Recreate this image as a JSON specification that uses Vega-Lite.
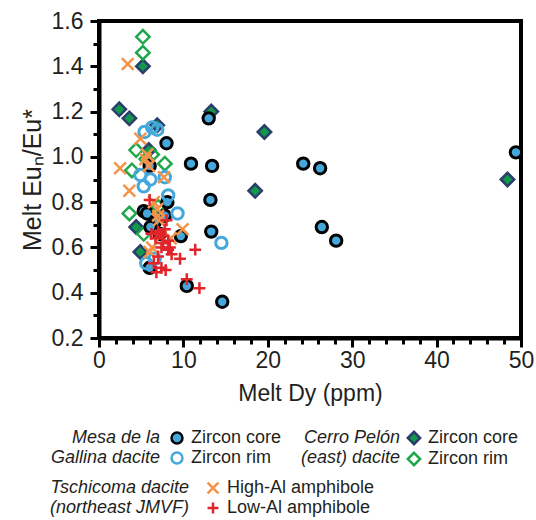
{
  "$schema": "https://vega.github.io/schema/vega-lite/v6.json",
  "width": 422,
  "height": 317,
  "autosize": {"type": "none"},
  "padding": {"left": 99, "top": 21, "right": 15, "bottom": 182},
  "config": {
    "font": "Liberation Sans",
    "view": {"stroke": "black", "strokeWidth": 4},
    "axis": {"grid": false, "domainColor": "black", "domainWidth": 4, "tickColor": "black", "tickWidth": 3, "labelColor": "#231f20", "titleColor": "#231f20", "labelFontSize": 23, "titleFontSize": 23, "titleFontWeight": "normal", "labelOverlap": false, "labelFlush": false},
    "legend": {"orient": "none", "titleOrient": "left", "titleAnchor": "start", "titleFontStyle": "italic", "titleFontWeight": "normal", "titleFontSize": 18, "titleColor": "#231f20", "titleAlign": "right", "titleLineHeight": 20, "titleBaseline": "top", "labelFontSize": 18, "labelColor": "#231f20", "labelOffset": 5, "rowPadding": -3, "symbolStrokeWidth": 2.5, "symbolSize": 120}
  },
  "datasets": {
    "cerro": [
      {"dy": 5.2, "eu": 1.40, "cerro": "Zircon core"},
      {"dy": 2.4, "eu": 1.21, "cerro": "Zircon core"},
      {"dy": 3.6, "eu": 1.17, "cerro": "Zircon core"},
      {"dy": 6.9, "eu": 1.14, "cerro": "Zircon core"},
      {"dy": 13.3, "eu": 1.20, "cerro": "Zircon core"},
      {"dy": 19.6, "eu": 1.11, "cerro": "Zircon core"},
      {"dy": 18.5, "eu": 0.85, "cerro": "Zircon core"},
      {"dy": 48.4, "eu": 0.90, "cerro": "Zircon core"},
      {"dy": 4.4, "eu": 0.69, "cerro": "Zircon core"},
      {"dy": 4.9, "eu": 0.58, "cerro": "Zircon core"},
      {"dy": 5.9, "eu": 1.03, "cerro": "Zircon core"},
      {"dy": 5.2, "eu": 1.53, "cerro": "Zircon rim"},
      {"dy": 5.2, "eu": 1.46, "cerro": "Zircon rim"},
      {"dy": 3.6, "eu": 0.75, "cerro": "Zircon rim"},
      {"dy": 7.8, "eu": 0.97, "cerro": "Zircon rim"},
      {"dy": 6.3, "eu": 1.01, "cerro": "Zircon rim"},
      {"dy": 4.4, "eu": 1.03, "cerro": "Zircon rim"},
      {"dy": 3.9, "eu": 0.94, "cerro": "Zircon rim"},
      {"dy": 5.3, "eu": 0.66, "cerro": "Zircon rim"},
      {"dy": 5.6, "eu": 0.99, "cerro": "Zircon rim"},
      {"dy": 7.0, "eu": 0.78, "cerro": "Zircon rim"}
    ],
    "mesa": [
      {"dy": 49.4, "eu": 1.02, "mesa": "Zircon core"},
      {"dy": 13.0, "eu": 1.17, "mesa": "Zircon core"},
      {"dy": 8.0, "eu": 1.06, "mesa": "Zircon core"},
      {"dy": 10.9, "eu": 0.97, "mesa": "Zircon core"},
      {"dy": 13.4, "eu": 0.96, "mesa": "Zircon core"},
      {"dy": 24.2, "eu": 0.97, "mesa": "Zircon core"},
      {"dy": 26.2, "eu": 0.95, "mesa": "Zircon core"},
      {"dy": 13.2, "eu": 0.81, "mesa": "Zircon core"},
      {"dy": 13.3, "eu": 0.67, "mesa": "Zircon core"},
      {"dy": 26.4, "eu": 0.69, "mesa": "Zircon core"},
      {"dy": 28.1, "eu": 0.63, "mesa": "Zircon core"},
      {"dy": 10.4, "eu": 0.43, "mesa": "Zircon core"},
      {"dy": 14.6, "eu": 0.36, "mesa": "Zircon core"},
      {"dy": 9.7, "eu": 0.65, "mesa": "Zircon core"},
      {"dy": 6.0, "eu": 0.96, "mesa": "Zircon core"},
      {"dy": 5.3, "eu": 0.76, "mesa": "Zircon core"},
      {"dy": 5.7, "eu": 0.75, "mesa": "Zircon core"},
      {"dy": 8.1, "eu": 0.80, "mesa": "Zircon core"},
      {"dy": 6.6, "eu": 0.71, "mesa": "Zircon core"},
      {"dy": 6.1, "eu": 0.69, "mesa": "Zircon core"},
      {"dy": 6.0, "eu": 0.51, "mesa": "Zircon core"},
      {"dy": 7.2, "eu": 0.66, "mesa": "Zircon core"},
      {"dy": 7.8, "eu": 0.74, "mesa": "Zircon core"},
      {"dy": 14.5, "eu": 0.62, "mesa": "Zircon rim"},
      {"dy": 9.3, "eu": 0.75, "mesa": "Zircon rim"},
      {"dy": 8.2, "eu": 0.83, "mesa": "Zircon rim"},
      {"dy": 5.4, "eu": 1.11, "mesa": "Zircon rim"},
      {"dy": 6.3, "eu": 1.13, "mesa": "Zircon rim"},
      {"dy": 6.9, "eu": 1.12, "mesa": "Zircon rim"},
      {"dy": 4.9, "eu": 0.92, "mesa": "Zircon rim"},
      {"dy": 5.3, "eu": 0.87, "mesa": "Zircon rim"},
      {"dy": 6.1, "eu": 0.90, "mesa": "Zircon rim"},
      {"dy": 7.8, "eu": 0.91, "mesa": "Zircon rim"},
      {"dy": 5.6, "eu": 0.53, "mesa": "Zircon rim"},
      {"dy": 6.6, "eu": 0.55, "mesa": "Zircon rim"}
    ],
    "tsch": [
      {"dy": 3.4, "eu": 1.41, "tsch": "High-Al amphibole"},
      {"dy": 2.5, "eu": 0.95, "tsch": "High-Al amphibole"},
      {"dy": 3.6, "eu": 0.85, "tsch": "High-Al amphibole"},
      {"dy": 4.9, "eu": 1.08, "tsch": "High-Al amphibole"},
      {"dy": 5.7, "eu": 1.01, "tsch": "High-Al amphibole"},
      {"dy": 5.9, "eu": 0.96, "tsch": "High-Al amphibole"},
      {"dy": 7.7, "eu": 0.91, "tsch": "High-Al amphibole"},
      {"dy": 9.9, "eu": 0.68, "tsch": "High-Al amphibole"},
      {"dy": 6.0, "eu": 0.58, "tsch": "High-Al amphibole"},
      {"dy": 6.9, "eu": 0.77, "tsch": "High-Al amphibole"},
      {"dy": 7.1, "eu": 0.72, "tsch": "High-Al amphibole"},
      {"dy": 6.5, "eu": 0.80, "tsch": "High-Al amphibole"},
      {"dy": 7.3, "eu": 0.65, "tsch": "High-Al amphibole"},
      {"dy": 5.5, "eu": 0.99, "tsch": "High-Al amphibole"},
      {"dy": 7.0, "eu": 0.74, "tsch": "High-Al amphibole"},
      {"dy": 8.5, "eu": 0.64, "tsch": "High-Al amphibole"},
      {"dy": 6.3, "eu": 0.60, "tsch": "High-Al amphibole"},
      {"dy": 6.0, "eu": 0.81, "tsch": "Low-Al amphibole"},
      {"dy": 6.2, "eu": 0.66, "tsch": "Low-Al amphibole"},
      {"dy": 7.3, "eu": 0.66, "tsch": "Low-Al amphibole"},
      {"dy": 8.0, "eu": 0.72, "tsch": "Low-Al amphibole"},
      {"dy": 7.0, "eu": 0.67, "tsch": "Low-Al amphibole"},
      {"dy": 7.6, "eu": 0.65, "tsch": "Low-Al amphibole"},
      {"dy": 8.2, "eu": 0.63, "tsch": "Low-Al amphibole"},
      {"dy": 7.4, "eu": 0.60, "tsch": "Low-Al amphibole"},
      {"dy": 8.2, "eu": 0.59, "tsch": "Low-Al amphibole"},
      {"dy": 8.6, "eu": 0.57, "tsch": "Low-Al amphibole"},
      {"dy": 9.6, "eu": 0.55, "tsch": "Low-Al amphibole"},
      {"dy": 11.4, "eu": 0.59, "tsch": "Low-Al amphibole"},
      {"dy": 11.9, "eu": 0.42, "tsch": "Low-Al amphibole"},
      {"dy": 10.4, "eu": 0.46, "tsch": "Low-Al amphibole"},
      {"dy": 7.9, "eu": 0.50, "tsch": "Low-Al amphibole"},
      {"dy": 6.8, "eu": 0.49, "tsch": "Low-Al amphibole"},
      {"dy": 6.5, "eu": 0.53, "tsch": "Low-Al amphibole"},
      {"dy": 7.4, "eu": 0.51, "tsch": "Low-Al amphibole"},
      {"dy": 7.0, "eu": 0.56, "tsch": "Low-Al amphibole"},
      {"dy": 7.6, "eu": 0.62, "tsch": "Low-Al amphibole"},
      {"dy": 6.7, "eu": 0.64, "tsch": "Low-Al amphibole"},
      {"dy": 7.8, "eu": 0.68, "tsch": "Low-Al amphibole"},
      {"dy": 8.4, "eu": 0.60, "tsch": "Low-Al amphibole"}
    ]
  },
  "encoding": {
    "x": {"field": "dy", "type": "quantitative", "scale": {"domain": [0, 50], "nice": false, "zero": false},
      "axis": {"title": "Melt Dy (ppm)", "values": [0,2,4,6,8,10,12,14,16,18,20,22,24,26,28,30,32,34,36,38,40,42,44,46,48,50],
        "labelExpr": "datum.value % 10 === 0 ? datum.label : ''",
        "tickSize": {"condition": {"test": "datum.value % 10 === 0", "value": 9}, "value": 6},
        "labelPadding": 2, "titlePadding": 10}},
    "y": {"field": "eu", "type": "quantitative", "scale": {"domain": [0.2, 1.6], "nice": false, "zero": false},
      "axis": {"title": "Melt Euₙ/Eu*", "titleFontSize": 25, "values": [0.2,0.3,0.4,0.5,0.6,0.7,0.8,0.9,1.0,1.1,1.2,1.3,1.4,1.5,1.6],
        "format": ".1f",
        "labelExpr": "round(datum.value * 10) % 2 === 0 ? datum.label : ''",
        "tickSize": {"condition": {"test": "round(datum.value * 10) % 2 === 0", "value": 9}, "value": 6},
        "labelPadding": 7, "titlePadding": 6}}
  },
  "layer": [
    {
      "data": {"name": "cerro"},
      "mark": {"type": "point", "size": 180, "strokeWidth": 2.5, "opacity": 1},
      "encoding": {
        "shape": {"field": "cerro", "type": "nominal", "scale": {"domain": ["Zircon core", "Zircon rim"], "range": ["diamond", "diamond"]},
          "legend": {"title": ["Cerro Pelón", "(east) dacite"], "legendX": 202, "legendY": 408, "titlePadding": -95, "symbolSize": 150}},
        "fill": {"field": "cerro", "type": "nominal", "scale": {"domain": ["Zircon core", "Zircon rim"], "range": ["#11984a", "transparent"]},
          "legend": {"title": ["Cerro Pelón", "(east) dacite"], "legendX": 202, "legendY": 408, "titlePadding": -95, "symbolSize": 150}},
        "stroke": {"field": "cerro", "type": "nominal", "scale": {"domain": ["Zircon core", "Zircon rim"], "range": ["#2b3d6b", "#1fa84b"]},
          "legend": {"title": ["Cerro Pelón", "(east) dacite"], "legendX": 202, "legendY": 408, "titlePadding": -95, "symbolSize": 150}}
      }
    },
    {
      "data": {"name": "mesa"},
      "mark": {"type": "point", "size": 130, "strokeWidth": 3, "opacity": 1},
      "encoding": {
        "shape": {"field": "mesa", "type": "nominal", "scale": {"domain": ["Zircon core", "Zircon rim"], "range": ["circle", "circle"]},
          "legend": {"title": ["Mesa de la", "Gallina dacite"], "legendX": -48, "legendY": 408, "titlePadding": -102}},
        "fill": {"field": "mesa", "type": "nominal", "scale": {"domain": ["Zircon core", "Zircon rim"], "range": ["#45a8dc", "transparent"]},
          "legend": {"title": ["Mesa de la", "Gallina dacite"], "legendX": -48, "legendY": 408, "titlePadding": -102}},
        "stroke": {"field": "mesa", "type": "nominal", "scale": {"domain": ["Zircon core", "Zircon rim"], "range": ["#000000", "#45a8dc"]},
          "legend": {"title": ["Mesa de la", "Gallina dacite"], "legendX": -48, "legendY": 408, "titlePadding": -102}}
      }
    },
    {
      "data": {"name": "tsch"},
      "mark": {"type": "point", "size": 140, "strokeWidth": 2.5, "opacity": 1},
      "encoding": {
        "shape": {"field": "tsch", "type": "nominal", "scale": {"domain": ["High-Al amphibole", "Low-Al amphibole"], "range": ["M-1,-1L1,1M-1,1L1,-1", "M-1,0L1,0M0,-1L0,1"]},
          "legend": {"title": ["Tschicoma dacite", "(northeast JMVF)"], "legendX": -49, "legendY": 458, "titlePadding": -125}},
        "fill": {"field": "tsch", "type": "nominal", "scale": {"domain": ["High-Al amphibole", "Low-Al amphibole"], "range": ["transparent", "transparent"]},
          "legend": {"title": ["Tschicoma dacite", "(northeast JMVF)"], "legendX": -49, "legendY": 458, "titlePadding": -125}},
        "stroke": {"field": "tsch", "type": "nominal", "scale": {"domain": ["High-Al amphibole", "Low-Al amphibole"], "range": ["#f4934a", "#e2242b"]},
          "legend": {"title": ["Tschicoma dacite", "(northeast JMVF)"], "legendX": -49, "legendY": 458, "titlePadding": -125}}
      }
    }
  ],
  "resolve": {
    "scale": {"shape": "independent", "fill": "independent", "stroke": "independent"},
    "legend": {"shape": "independent", "fill": "independent", "stroke": "independent"}
  }
}
